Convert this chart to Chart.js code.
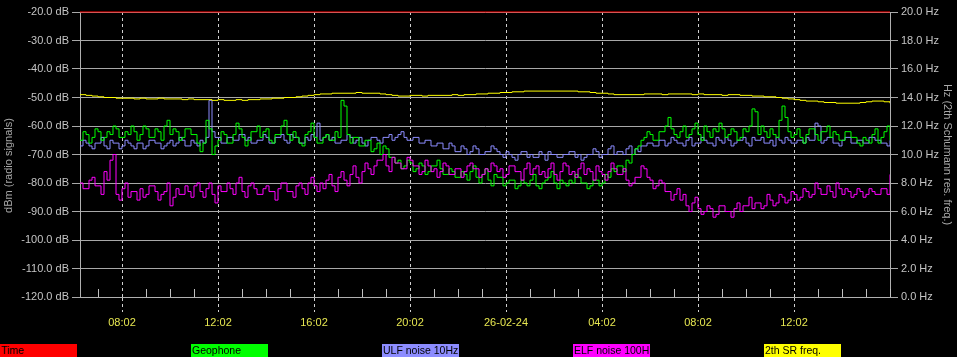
<!DOCTYPE html>
<html>
<head>
<meta charset="utf-8">
<script src="https://cdn.jsdelivr.net/npm/chart.js@4/dist/chart.umd.min.js"></script>
<style>
  html,body{margin:0;padding:0;background:#000;}
  #wrap{position:relative;width:957px;height:357px;overflow:hidden;}
  #legend div{position:absolute;top:344px;width:77px;height:13px;font:10.5px "Liberation Sans",Arial,sans-serif;color:#000;line-height:13px;padding-left:1px;box-sizing:border-box;white-space:nowrap;overflow:hidden;}
</style>
</head>
<body>
<div id="wrap">
  <canvas id="c" width="957" height="357"></canvas>
  <div id="legend"></div>
</div>
<script>
// time axis: hours since 00:02 of day 1
const T_START = 6.25, T_END = 40;
const NOISE_STEP = 0.125;   // noise traces: one sample every 7.5 min
const SR_STEP = 0.25;       // SR frequency: one sample every 15 min
const majorHours = [8, 12, 16, 20, 24, 28, 32, 36];
const dbTicks = [-120,-110,-100,-90,-80,-70,-60,-50,-40,-30,-20];

// Geophone (dBm)
const geophone = [
  -65,-62,-63,-66,-64,-61,-62,-65,-64,-62,-63,-60,-61,-64,-64,-62,-63,-60,-62,-65,
  -63,-60,-61,-64,-64,-61,-62,-65,-60,-58,-63,-61,-62,-65,-64,-61,-61,-63,-63,-66,
  -69,-66,-58,-61,-70,-67,-65,-62,-63,-66,-66,-63,-59,-61,-64,-67,-65,-62,-62,-60,
  -64,-62,-61,-65,-66,-63,-63,-60,-58,-63,-65,-62,-64,-66,-67,-63,-62,-59,-64,-66,
  -66,-64,-63,-65,-65,-62,-64,-51,-53,-63,-66,-64,-64,-67,-67,-65,-65,-69,-68,-66,
  -70,-67,-68,-71,-71,-73,-72,-75,-74,-72,-73,-76,-75,-73,-74,-77,-76,-74,-74,-72,
  -75,-77,-77,-75,-76,-78,-78,-76,-77,-79,-76,-74,-78,-80,-77,-75,-79,-81,-77,-78,
  -78,-81,-80,-79,-79,-82,-81,-79,-80,-81,-79,-77,-81,-82,-80,-79,-78,-76,-80,-82,
  -79,-80,-81,-79,-80,-77,-78,-80,-80,-82,-81,-79,-79,-81,-80,-77,-78,-75,-76,-74,
  -74,-76,-72,-73,-70,-68,-67,-65,-64,-62,-63,-65,-65,-62,-62,-60,-57,-61,-63,-64,
  -62,-60,-64,-63,-61,-59,-63,-65,-60,-62,-64,-61,-62,-59,-61,-64,-63,-61,-62,-65,
  -64,-61,-62,-60,-54,-55,-63,-60,-62,-64,-61,-63,-64,-58,-53,-57,-62,-64,-63,-61,
  -64,-66,-63,-61,-61,-63,-65,-62,-62,-60,-64,-62,-63,-65,-65,-62,-62,-64,-64,-66,
  -67,-64,-65,-66,-63,-61,-66,-64,-62,-60,-65
];
// ULF noise 10Hz (dBm)
const ulf = [
  -67,-65,-66,-67,-68,-66,-66,-64,-67,-68,-65,-66,-66,-68,-67,-65,-66,-67,-68,-66,
  -66,-68,-67,-65,-65,-66,-66,-68,-67,-66,-65,-67,-66,-64,-65,-67,-67,-65,-66,-67,
  -65,-66,-64,-51,-62,-64,-64,-66,-66,-64,-64,-65,-65,-63,-63,-65,-64,-66,-66,-65,
  -65,-63,-64,-66,-66,-64,-64,-63,-65,-66,-63,-64,-64,-66,-66,-64,-65,-63,-64,-59,
  -65,-64,-63,-65,-64,-66,-66,-65,-65,-63,-64,-66,-65,-64,-66,-67,-65,-64,-64,-65,
  -66,-64,-64,-63,-65,-64,-63,-62,-64,-65,-65,-64,-64,-66,-66,-65,-65,-67,-67,-66,
  -66,-68,-68,-66,-67,-69,-69,-67,-68,-70,-69,-67,-68,-70,-70,-69,-69,-67,-68,-69,
  -70,-71,-69,-70,-71,-72,-70,-69,-69,-71,-70,-71,-71,-69,-70,-72,-69,-70,-70,-71,
  -71,-70,-70,-69,-69,-71,-70,-72,-71,-70,-70,-68,-69,-71,-70,-70,-68,-67,-70,-69,
  -69,-70,-68,-67,-70,-68,-69,-67,-67,-66,-66,-67,-67,-65,-65,-67,-66,-64,-65,-66,
  -66,-67,-65,-64,-67,-66,-66,-64,-65,-66,-66,-67,-64,-65,-66,-64,-65,-67,-66,-65,
  -65,-64,-66,-67,-64,-65,-65,-64,-66,-66,-65,-67,-64,-65,-66,-64,-65,-66,-66,-65,
  -65,-66,-64,-65,-65,-59,-60,-66,-65,-64,-64,-66,-66,-67,-65,-64,-64,-66,-66,-65,
  -65,-66,-66,-64,-64,-65,-65,-66,-66,-67,-65
];
// ELF noise 100Hz (dBm)
const elf = [
  -80,-82,-82,-79,-78,-81,-81,-84,-76,-79,-72,-70,-84,-86,-82,-80,-85,-83,-83,-86,
  -82,-85,-84,-81,-81,-83,-86,-84,-83,-80,-88,-85,-82,-84,-84,-81,-83,-85,-81,-80,
  -83,-85,-82,-80,-84,-87,-81,-83,-83,-80,-82,-84,-80,-78,-83,-85,-81,-80,-82,-84,
  -84,-82,-81,-83,-83,-86,-82,-80,-80,-83,-83,-85,-81,-80,-82,-84,-80,-78,-81,-83,
  -80,-82,-79,-77,-81,-83,-78,-76,-79,-81,-77,-74,-78,-80,-76,-73,-75,-77,-74,-72,
  -72,-70,-74,-76,-71,-73,-73,-75,-75,-71,-72,-74,-74,-77,-76,-72,-74,-76,-75,-78,
  -76,-73,-74,-77,-77,-75,-75,-78,-76,-74,-73,-75,-75,-78,-77,-75,-76,-73,-74,-76,
  -75,-78,-77,-74,-74,-76,-76,-79,-75,-73,-77,-75,-74,-77,-76,-78,-75,-73,-77,-79,
  -76,-73,-74,-77,-76,-78,-75,-73,-77,-75,-76,-79,-74,-76,-77,-79,-76,-73,-75,-77,
  -77,-75,-79,-81,-80,-78,-78,-74,-75,-78,-79,-82,-81,-79,-80,-83,-83,-86,-84,-82,
  -86,-84,-88,-90,-87,-85,-89,-91,-90,-88,-89,-92,-91,-88,-88,-90,-90,-92,-89,-87,
  -90,-88,-88,-85,-89,-87,-87,-89,-88,-84,-86,-88,-87,-84,-85,-87,-86,-83,-84,-86,
  -85,-82,-83,-85,-84,-80,-82,-84,-84,-81,-83,-85,-80,-82,-84,-82,-83,-85,-84,-82,
  -83,-85,-84,-82,-83,-84,-84,-82,-82,-84,-77
];
// 2th SR freq. (Hz)
const srFreq = [
  14.2,14.15,14.1,14.05,14.0,14.0,13.95,13.95,13.95,13.9,
  13.95,13.9,13.9,13.95,13.9,13.9,13.9,13.85,13.9,13.85,
  13.85,13.85,13.8,13.85,13.8,13.8,13.85,13.8,13.85,13.85,
  13.9,13.9,13.95,13.95,14.0,14.0,14.05,14.1,14.15,14.2,
  14.25,14.25,14.3,14.3,14.3,14.3,14.35,14.3,14.3,14.3,
  14.25,14.2,14.15,14.1,14.1,14.15,14.15,14.1,14.15,14.15,
  14.15,14.15,14.2,14.15,14.2,14.2,14.25,14.25,14.3,14.3,
  14.35,14.35,14.4,14.4,14.45,14.45,14.45,14.45,14.45,14.45,
  14.45,14.45,14.45,14.4,14.4,14.35,14.3,14.3,14.25,14.2,
  14.2,14.2,14.2,14.2,14.25,14.25,14.25,14.2,14.25,14.25,
  14.25,14.25,14.2,14.25,14.2,14.2,14.2,14.15,14.2,14.2,
  14.15,14.15,14.1,14.1,14.05,14.05,14.0,13.95,13.9,13.85,
  13.8,13.75,13.75,13.7,13.65,13.65,13.6,13.6,13.6,13.6,
  13.65,13.7,13.75,13.75,13.7,13.6
];
// "Time" trace sits on the top edge
const timeTrace = [-20, -20];

const legendItems = [
  {label:'Time', color:'#ff0000'},
  {label:'Geophone', color:'#00ff00'},
  {label:'ULF noise 10Hz', color:'#8c8cff'},
  {label:'ELF noise 100H', color:'#ff00ff'},
  {label:'2th SR freq.', color:'#ffff00'}
];
const leftTitle = 'dBm (radio signals)';

function pts(arr,step){ return arr.map((v,i)=>({x:T_START+i*step, y:v})); }
function hourLabel(h){
  if(h===24) return '26-02-24';
  let hh=h%24; return (hh<10?'0':'')+hh+':02';
}

// html legend boxes
let lg=document.getElementById('legend');
legendItems.forEach((it,i)=>{
  let d=document.createElement('div');
  d.style.left=(i*191)+'px'; d.style.background=it.color; d.textContent=it.label;
  lg.appendChild(d);
});

// small hourly ticks pointing up from the time axis + left axis title (sits a bit low in the original)
const extras={
  id:'extras',
  afterDraw(chart){
    let xs=chart.scales.x, ctx=chart.ctx, ca=chart.chartArea, b=ca.bottom;
    ctx.save(); ctx.strokeStyle='#c0c0c0'; ctx.lineWidth=1;
    for(let h=Math.ceil(T_START);h<=T_END;h++){
      if(majorHours.includes(h)) continue;
      let px=Math.round(xs.getPixelForValue(h))+0.5;
      ctx.beginPath(); ctx.moveTo(px,b-8); ctx.lineTo(px,b); ctx.stroke();
    }
    ctx.translate(9,(ca.top+ca.bottom)/2+11);
    ctx.rotate(-Math.PI/2);
    ctx.fillStyle='#a8a8a8'; ctx.font='11px "Liberation Sans", Arial, sans-serif';
    ctx.textAlign='center'; ctx.textBaseline='middle';
    ctx.fillText(leftTitle,0,0);
    ctx.restore();
  }
};

Chart.defaults.font.family='"Liberation Sans", Arial, sans-serif';
Chart.defaults.font.size=11;

const lineDs=(label,data,step,color,axis)=>({label,data:pts(data,step),borderColor:color,backgroundColor:color,borderWidth:1,pointRadius:0,stepped:true,yAxisID:axis,fill:false});

new Chart(document.getElementById('c'),{
  type:'line',
  data:{datasets:[
    {label:'Time',data:[{x:T_START,y:timeTrace[0]},{x:T_END,y:timeTrace[1]}],borderColor:'#ff0000',borderWidth:1,pointRadius:0,yAxisID:'y',clip:false},
    lineDs('2th SR freq.',srFreq,SR_STEP,'#ffff00','y2'),
    lineDs('ELF noise 100H',elf,NOISE_STEP,'#ff00ff','y'),
    lineDs('Geophone',geophone,NOISE_STEP,'#00ff00','y'),
    lineDs('ULF noise 10Hz',ulf,NOISE_STEP,'#8c8cff','y')
  ]},
  options:{
    responsive:false, animation:false, devicePixelRatio:1,
    layout:{padding:{top:12,left:0,right:0,bottom:0}},
    plugins:{legend:{display:false},tooltip:{enabled:false}},
    scales:{
      x:{
        type:'linear', min:T_START, max:T_END, position:'bottom',
        afterBuildTicks:s=>{s.ticks=majorHours.map(v=>({value:v}));},
        afterFit:s=>{s.height=60;},
        ticks:{color:'#e6e650',padding:4,maxRotation:0,autoSkip:false,callback:v=>hourLabel(v)},
        grid:{color:'#d0d0d0',tickLength:15,tickColor:'#d0d0d0',tickBorderDash:[3,3]},
        border:{display:true,color:'#b0b0b0',dash:[3,3]}
      },
      y:{
        position:'left', min:-120, max:-20,
        afterBuildTicks:s=>{s.ticks=dbTicks.map(v=>({value:v}));},
        afterFit:s=>{s.width=80;},
        ticks:{color:'#c4c4c4',padding:3,callback:v=>v.toFixed(1)+' dB'},
        grid:{color:'#a8a8a8',tickLength:8,tickColor:'#a8a8a8'},
        border:{display:true,color:'#b0b0b0'}
      },
      y2:{
        position:'right', min:0, max:20,
        ticks:{stepSize:2,color:'#c4c4c4',padding:3,callback:v=>v.toFixed(1)+' Hz'},
        afterFit:s=>{s.width=67;},
        grid:{drawOnChartArea:false,tickLength:8,tickColor:'#a8a8a8'},
        border:{display:true,color:'#b0b0b0'},
        title:{display:true,text:'Hz (2th Schumann res. freq.)',color:'#a8a8a8',font:{size:11},padding:{top:3,bottom:0}}
      }
    }
  },
  plugins:[extras]
});
</script>
</body>
</html>
